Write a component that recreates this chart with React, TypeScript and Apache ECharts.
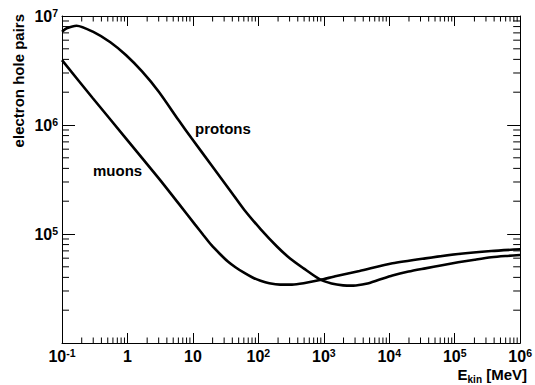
import React, { useEffect, useRef } from 'react';
import * as echarts from 'echarts';

const X_MIN = 0.1;
const X_MAX = 1e6;
const Y_MIN = 1e4;
const Y_MAX = 1e7;

const protonEnergy = [0.1, 0.118, 0.167, 0.296, 0.548, 0.946, 1.67, 3.01, 6.03, 9.55, 19.1, 38.4, 61.1, 108, 194, 305, 491, 873, 1312, 1968, 2812, 4426, 6950, 11170, 19680, 35560, 64130, 113000, 201800, 360600, 591600, 1e6];
const protonPairs = [7.18e6, 7.71e6, 8.15e6, 7.18e6, 5.74e6, 4.38e6, 3.1e6, 2.02e6, 1.11e6, 7.55e5, 4.3e5, 2.43e5, 1.66e5, 1.11e5, 7.64e4, 5.96e4, 4.84e4, 3.83e4, 3.52e4, 3.38e4, 3.36e4, 3.49e4, 3.8e4, 4.16e4, 4.52e4, 4.84e4, 5.17e4, 5.5e4, 5.81e4, 6.11e4, 6.28e4, 6.41e4];

const muonEnergy = [0.1, 0.296, 0.946, 3.01, 6.03, 10.8, 14.4, 19.1, 25.9, 34.2, 45.2, 61.1, 81.5, 108, 147, 215, 327, 491, 873, 1560, 3510, 11170, 35560, 113000, 360600, 1e6];
const muonPairs = [3.94e6, 1.76e6, 7.55e5, 3.24e5, 1.91e5, 1.22e5, 9.79e4, 7.93e4, 6.56e4, 5.6e4, 4.93e4, 4.39e4, 3.99e4, 3.72e4, 3.53e4, 3.43e4, 3.43e4, 3.53e4, 3.78e4, 4.12e4, 4.58e4, 5.38e4, 5.98e4, 6.55e4, 6.98e4, 7.24e4];

const xMinorDecades = [-1, 0, 1, 2, 3, 4, 5];
const yMinorDecades = [4, 5, 6];
const minorMultipliers = [2, 3, 4, 5, 6, 7, 8, 9];

const FONT = '"Liberation Sans", Arial, Helvetica, sans-serif';

const richLabel = {
  b: { fontFamily: FONT, fontWeight: 'bold', fontSize: 16, color: '#000', lineHeight: 18 },
  s: { fontFamily: FONT, fontWeight: 'bold', fontSize: 10.5, color: '#000', lineHeight: 10, verticalAlign: 'top' },
};

function xLabel(value: number): string {
  const e = Math.round(Math.log10(value));
  if (e === 0) return '{b|1}';
  if (e === 1) return '{b|10}';
  return `{b|10}{s|${e}}`;
}

function yLabel(value: number): string {
  const e = Math.round(Math.log10(value));
  if (e <= 4) return '';
  return `{b|10}{s|${e}}`;
}

export default function App() {
  const ref = useRef<HTMLDivElement>(null);

  useEffect(() => {
    if (!ref.current) return;
    const chart = echarts.init(ref.current, undefined, { renderer: 'svg' });

    const protonData = protonEnergy.map((e, i) => [e, protonPairs[i]]);
    const muonData = muonEnergy.map((e, i) => [e, muonPairs[i]]);

    const minorData: number[][] = [];
    xMinorDecades.forEach((d) => minorMultipliers.forEach((k) => minorData.push([k * Math.pow(10, d), Y_MIN, 0])));
    yMinorDecades.forEach((d) => minorMultipliers.forEach((k) => minorData.push([X_MIN, k * Math.pow(10, d), 1])));

    const axisLine = { show: true, lineStyle: { color: '#000', width: 1 } };

    const option: any = {
      animation: false,
      backgroundColor: '#fff',
      grid: { left: 62, right: 9, top: 16, bottom: 42, containLabel: false },
      xAxis: [
        {
          type: 'log',
          logBase: 10,
          min: X_MIN,
          max: X_MAX,
          interval: 1,
          position: 'bottom',
          axisLine,
          axisTick: { show: true, inside: true, length: 10, lineStyle: { color: '#000', width: 1 } },
          splitLine: { show: false },
          axisLabel: { show: true, margin: 4, formatter: xLabel, rich: richLabel, showMinLabel: true, showMaxLabel: true },
        },
        {
          type: 'log',
          logBase: 10,
          min: X_MIN,
          max: X_MAX,
          interval: 1,
          position: 'top',
          axisLine,
          axisTick: { show: true, inside: true, length: 10, lineStyle: { color: '#000', width: 1 } },
          splitLine: { show: false },
          axisLabel: { show: false },
        },
      ],
      yAxis: [
        {
          type: 'log',
          logBase: 10,
          min: Y_MIN,
          max: Y_MAX,
          interval: 1,
          position: 'left',
          axisLine,
          axisTick: { show: true, inside: true, length: 13, lineStyle: { color: '#000', width: 1 } },
          splitLine: { show: false },
          axisLabel: { show: true, margin: 4, formatter: yLabel, rich: richLabel, showMinLabel: true, showMaxLabel: true },
        },
        {
          type: 'log',
          logBase: 10,
          min: Y_MIN,
          max: Y_MAX,
          interval: 1,
          position: 'right',
          axisLine,
          axisTick: { show: true, inside: true, length: 13, lineStyle: { color: '#000', width: 1 } },
          splitLine: { show: false },
          axisLabel: { show: false },
        },
      ],
      series: [
        {
          name: 'protons',
          type: 'line',
          xAxisIndex: 0,
          yAxisIndex: 0,
          data: protonData,
          showSymbol: false,
          smooth: 0.25,
          lineStyle: { color: '#000', width: 2.6 },
          silent: true,
        },
        {
          name: 'muons',
          type: 'line',
          xAxisIndex: 0,
          yAxisIndex: 0,
          data: muonData,
          showSymbol: false,
          smooth: 0.25,
          lineStyle: { color: '#000', width: 2.6 },
          silent: true,
        },
        {
          name: 'minorTicks',
          type: 'custom',
          xAxisIndex: 0,
          yAxisIndex: 0,
          clip: false,
          silent: true,
          data: minorData,
          renderItem: (params: any, api: any) => {
            const kind = api.value(2);
            const style = { stroke: '#000', lineWidth: 1 };
            if (kind === 0) {
              const v = api.value(0);
              const pb = api.coord([v, Y_MIN]);
              const pt = api.coord([v, Y_MAX]);
              return {
                type: 'group',
                children: [
                  { type: 'line', shape: { x1: pb[0], y1: pb[1], x2: pb[0], y2: pb[1] - 5.5 }, style },
                  { type: 'line', shape: { x1: pt[0], y1: pt[1], x2: pt[0], y2: pt[1] + 5.5 }, style },
                ],
              };
            }
            const v = api.value(1);
            const pl = api.coord([X_MIN, v]);
            const pr = api.coord([X_MAX, v]);
            return {
              type: 'group',
              children: [
                { type: 'line', shape: { x1: pl[0], y1: pl[1], x2: pl[0] + 7, y2: pl[1] }, style },
                { type: 'line', shape: { x1: pr[0], y1: pr[1], x2: pr[0] - 7, y2: pr[1] }, style },
              ],
            };
          },
        },
      ],
      graphic: [
        {
          type: 'text',
          x: 18,
          y: 14,
          rotation: Math.PI / 2,
          style: {
            text: 'electron hole pairs',
            font: `bold 15px ${FONT}`,
            fill: '#000',
            textAlign: 'right',
            textVerticalAlign: 'middle',
          },
        },
        {
          type: 'text',
          x: 527,
          y: 374,
          style: {
            text: '{m|E}{sub|kin}{m| [MeV]}',
            rich: {
              m: { fontFamily: FONT, fontWeight: 'bold', fontSize: 15, fill: '#000', lineHeight: 20 },
              sub: { fontFamily: FONT, fontWeight: 'bold', fontSize: 10, fill: '#000', lineHeight: 10, verticalAlign: 'bottom' },
            },
            textAlign: 'right',
            textVerticalAlign: 'middle',
          },
        },
        {
          type: 'text',
          x: 195,
          y: 128,
          style: {
            text: 'protons',
            font: `bold 15px ${FONT}`,
            fill: '#000',
            textAlign: 'left',
            textVerticalAlign: 'middle',
          },
        },
        {
          type: 'text',
          x: 93,
          y: 170,
          style: {
            text: 'muons',
            font: `bold 15px ${FONT}`,
            fill: '#000',
            textAlign: 'left',
            textVerticalAlign: 'middle',
          },
        },
      ],
    };

    chart.setOption(option);
    return () => {
      chart.dispose();
    };
  }, []);

  return (
    <div
      ref={ref}
      style={{ position: 'fixed', left: 0, top: 0, width: 535, height: 385, background: '#fff' }}
    />
  );
}
